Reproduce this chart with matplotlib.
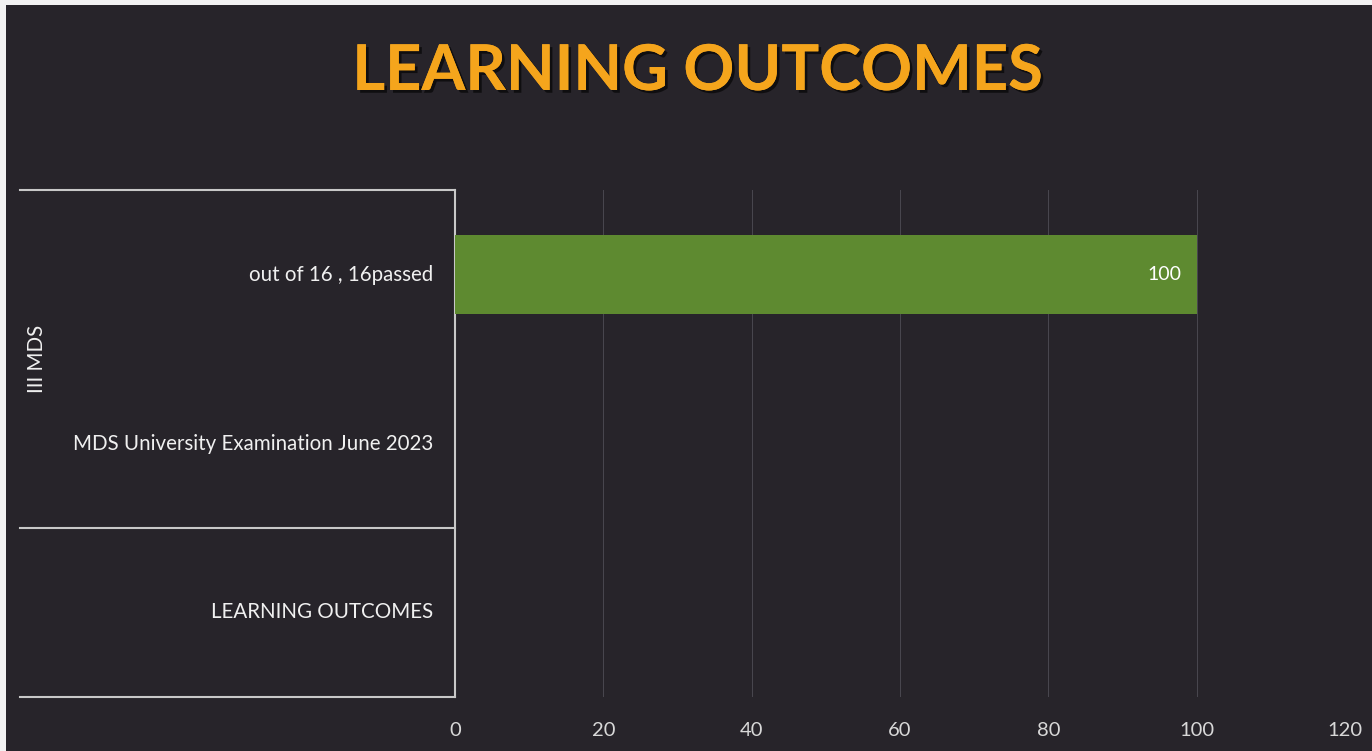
import matplotlib
matplotlib.use("Agg")
import matplotlib.pyplot as plt
from matplotlib.patches import Rectangle
from matplotlib.lines import Line2D
import matplotlib.patheffects as pe

title = "LEARNING OUTCOMES"
categories = ["out of 16 , 16passed", "MDS University Examination June 2023", "LEARNING OUTCOMES"]
group_label = "III MDS"
values = [100, None, None]
xticks = [0, 20, 40, 60, 80, 100, 120]

W, H = 1372, 751
fig = plt.figure(figsize=(W / 100, H / 100), dpi=100)
fig.patch.set_facecolor("#f2f2f2")
bg = "#27242a"
fig.patches.append(Rectangle((6 / W, 0), 1, 1 - 5 / H, transform=fig.transFigure,
                             facecolor=bg, edgecolor="none", zorder=-10))

font = "Lato"
left, right, top, bottom = 455, 1345, 190, 697
ax = fig.add_axes([left / W, 1 - bottom / H, (right - left) / W, (bottom - top) / H])
ax.set_facecolor("none")

ys = list(range(len(categories)))
for y, v in zip(ys, values):
    if v is not None:
        ax.barh(y, v, height=0.47, color="#5e8a30", zorder=3)
        ax.text(v - 2, y, f"{v}", ha="right", va="center", color="white",
                fontsize=14, family=font, zorder=4)

ax.set_xlim(0, 120)
ax.set_ylim(len(categories) - 0.5, -0.5)
ax.set_xticks(xticks)
ax.set_xticklabels([str(t) for t in xticks], family=font, fontsize=14.5, color="#d8d8d8")
ax.tick_params(axis="x", length=0, pad=18)
ax.set_yticks([])
ax.grid(axis="x", color="#4a4850", linewidth=0.7, zorder=0)
for s in ["top", "right", "bottom"]:
    ax.spines[s].set_visible(False)
ax.spines["left"].set_color("#c8c8c8")
ax.spines["left"].set_linewidth(1.5)

# category labels
for y, c in zip(ys, categories):
    ax.annotate(c, xy=(0, y), xycoords=("axes fraction", "data"), xytext=(-16, 0),
                textcoords="offset points", ha="right", va="center", color="#f0f0f0",
                fontsize=14.8, family=font, annotation_clip=False)

# hierarchy lines
lc = "#c8c8c8"
for py in [top, 528, bottom]:
    fig.add_artist(Line2D([20 / W, left / W], [1 - py / H, 1 - py / H], color=lc, linewidth=1.5,
                          transform=fig.transFigure))

fig.text(37 / W, 1 - 359 / H, group_label, rotation=90, ha="center", va="center",
         color="#f0f0f0", fontsize=14.8, family=font)

fig.text(698 / W, 1 - 72 / H, title, ha="center", va="center", color="#f5a51c",
         fontsize=45.5, fontweight="bold", family=font,
         path_effects=[pe.withSimplePatchShadow(offset=(2, -2), shadow_rgbFace="black", alpha=0.6), pe.Normal()])

fig.savefig("out.png", dpi=100, facecolor=fig.get_facecolor())
